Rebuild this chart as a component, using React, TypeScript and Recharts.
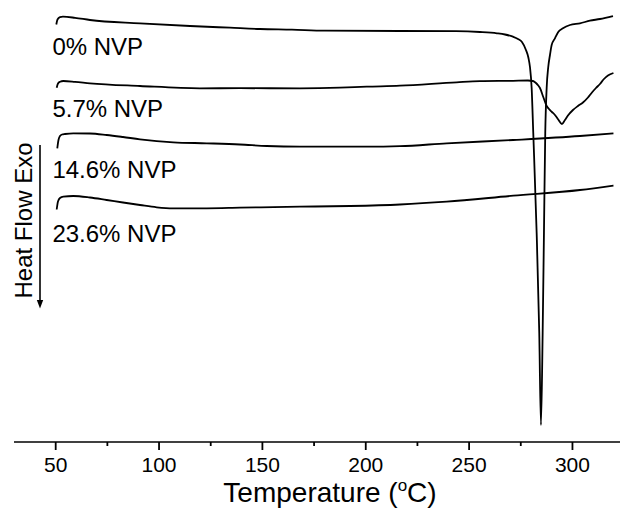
import React from 'react';
import { LineChart, Line, XAxis, YAxis, ReferenceDot, Customized } from 'recharts';

const FONT = '"Liberation Sans", Arial, Helvetica, sans-serif';

// Temperature (°C) and heat flow (arbitrary units, curves offset)
const t0 = [50.29, 50.87, 52.08, 53.53, 59.34, 66.59, 90.78, 114.97, 134.32, 148.83, 164.31, 180.27, 216.55, 243.64, 255.25, 263.48, 267.35, 271.22, 273.63, 275.57, 277.5, 278.72, 279.44, 280.26, 281.04, 282.68, 283.94, 284.76, 285.58, 286.21, 286.84, 287.52, 288.29, 289.12, 289.94, 291.53, 293.13, 295.4, 298.79, 303.63, 308.46, 313.3, 319.59];
const hf0 = [41.75, 42.25, 42.48, 42.53, 42.42, 42.2, 41.87, 41.6, 41.43, 41.3, 41.23, 41.13, 41.1, 41.08, 41.0, 40.87, 40.75, 40.53, 40.3, 40.0, 39.2, 38.4, 37.5, 35.4, 30.9, 20.9, 10.9, 1.7, 10.9, 20.9, 30.9, 35.4, 37.5, 38.7, 39.7, 40.37, 41.0, 41.37, 41.7, 41.87, 42.13, 42.3, 42.6];

const t57 = [50.48, 51.11, 52.08, 53.68, 59.34, 66.59, 90.78, 119.8, 139.15, 168.18, 187.53, 200.45, 216.55, 243.98, 255.25, 271.22, 278.48, 280.89, 282.34, 283.46, 284.28, 285.88, 287.52, 288.63, 290.08, 291.53, 293.13, 294.92, 296.37, 297.82, 300.24, 302.66, 305.08, 307.5, 309.43, 311.37, 313.3, 315.24, 317.18, 319.83];
const hf57 = [35.43, 35.85, 36.02, 36.1, 36.02, 35.87, 35.6, 35.37, 35.38, 35.37, 35.43, 35.53, 35.63, 35.97, 36.08, 36.12, 36.15, 36.1, 35.9, 35.65, 35.4, 34.5, 33.6, 33.3, 33.0, 32.7, 32.25, 31.8, 32.2, 32.65, 33.2, 33.6, 33.95, 34.45, 34.95, 35.4, 35.8, 36.3, 36.65, 36.9];

const t146 = [50.77, 51.35, 52.08, 53.05, 54.5, 58.51, 66.59, 74.67, 82.56, 90.78, 106.89, 123.05, 139.15, 152.07, 168.18, 200.45, 216.55, 239.14, 271.36, 303.63, 319.83];
const hf146 = [29.37, 30.2, 30.6, 30.75, 30.8, 30.87, 30.85, 30.7, 30.5, 30.27, 29.97, 29.87, 29.75, 29.6, 29.53, 29.53, 29.58, 29.87, 30.2, 30.6, 30.87];

const t236 = [50.48, 51.11, 52.08, 53.68, 58.51, 66.59, 74.67, 82.56, 90.78, 98.86, 106.89, 123.05, 139.15, 168.18, 192.37, 216.55, 239.14, 271.36, 303.63, 319.83];
const hf236 = [23.25, 24.05, 24.4, 24.53, 24.6, 24.45, 24.2, 23.95, 23.7, 23.47, 23.37, 23.37, 23.43, 23.53, 23.6, 23.75, 24.03, 24.63, 25.2, 25.65];

const seriesNames = ['0% NVP', '5.7% NVP', '14.6% NVP', '23.6% NVP'];
const labelT = [48.4, 48.4, 48.4, 48.4];
const labelHF = [39.53, 33.37, 27.28, 20.87];

const xTicks = [50, 75, 100, 125, 150, 175, 200, 225, 250, 275, 300];
const xDomain = [29.83, 323];
const yDomain = [0, 44.2];

const zip = (ts: number[], hs: number[]) => ts.map((t, i) => ({ t, hf: hs[i] }));
const series = [zip(t0, hf0), zip(t57, hf57), zip(t146, hf146), zip(t236, hf236)];

const AxisTick = (props: any) => {
  const { x, y, payload } = props;
  const v = payload.value as number;
  const major = v % 50 === 0;
  return (
    <g>
      <line x1={x} x2={x} y1={y} y2={y + (major ? 8 : 4)} stroke="#000" strokeWidth={1.8} />
      {major && (
        <text x={x} y={y + 29.7} textAnchor="middle" fontSize={21} fontFamily={FONT} fill="#000">
          {v}
        </text>
      )}
    </g>
  );
};

const Decor = () => (
  <g>
    <text
      x={31.5}
      y={220.5}
      transform="rotate(-90 31.5 220.5)"
      textAnchor="middle"
      fontSize={24}
      fontFamily={FONT}
      fill="#000"
    >
      Heat Flow Exo
    </text>
    <line x1={40} x2={40} y1={145} y2={301} stroke="#000" strokeWidth={1.6} />
    <polygon points="36.8,300 43.2,300 40,308.5" fill="#000" />
    <text x={330} y={501.7} textAnchor="middle" fontSize={28} fontFamily={FONT} fill="#000">
      Temperature (<tspan fontSize={17} dy={-11}>o</tspan>
      <tspan dy={11}>C)</tspan>
    </text>
  </g>
);

export default function App() {
  return (
    <div style={{ position: 'absolute', left: 0, top: 0, width: 620, height: 509, background: '#fff', fontFamily: FONT }}>
      <LineChart width={620} height={509} margin={{ top: 0, right: 0, bottom: 0, left: 14 }}>
        <XAxis
          type="number"
          dataKey="t"
          domain={xDomain}
          ticks={xTicks}
          interval={0}
          allowDataOverflow
          height={67}
          tickSize={0}
          tickMargin={0}
          tickLine={false}
          axisLine={{ stroke: '#000', strokeWidth: 1.6 }}
          tick={<AxisTick />}
        />
        <YAxis type="number" domain={yDomain} hide allowDataOverflow />
        {series.map((d, i) => (
          <Line
            key={seriesNames[i]}
            data={d}
            dataKey="hf"
            name={seriesNames[i]}
            type="monotone"
            stroke="#000"
            strokeWidth={1.8}
            dot={false}
            activeDot={false}
            isAnimationActive={false}
          />
        ))}
        {seriesNames.map((n, i) => (
          <ReferenceDot
            key={n}
            x={labelT[i]}
            y={labelHF[i]}
            r={0}
            fill="none"
            stroke="none"
            label={{ value: n, position: 'right', offset: 0, fontSize: 24, fill: '#000', fontFamily: FONT }}
          />
        ))}
        <Customized component={<Decor />} />
      </LineChart>
    </div>
  );
}
